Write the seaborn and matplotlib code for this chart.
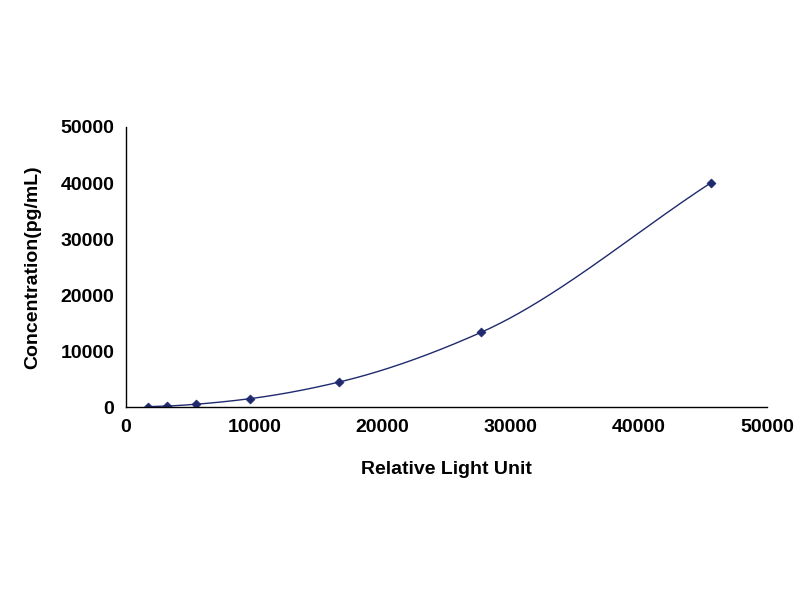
import numpy as np
import pandas as pd
import matplotlib
matplotlib.use('Agg')
import matplotlib.pyplot as plt
import seaborn as sns

# standard curve points
rlu = [1700, 3200, 5450, 9650, 16600, 27700, 45600]
conc = [55, 165, 494, 1481, 4444, 13333, 40000]
x_ticks = [0, 10000, 20000, 30000, 40000, 50000]
y_ticks = [0, 10000, 20000, 30000, 40000, 50000]

df = pd.DataFrame({'RLU': rlu, 'Conc': conc})


# monotone cubic (PCHIP) smoothing for the drawn curve
def pchip(x, y, xs):
    x = np.asarray(x, float); y = np.asarray(y, float)
    h = np.diff(x); d = np.diff(y) / h
    m = np.zeros_like(y)
    for k in range(1, len(x) - 1):
        if d[k - 1] * d[k] > 0:
            w1 = 2 * h[k] + h[k - 1]; w2 = h[k] + 2 * h[k - 1]
            m[k] = (w1 + w2) / (w1 / d[k - 1] + w2 / d[k])
    m[0] = d[0]; m[-1] = d[-1]
    idx = np.clip(np.searchsorted(x, xs) - 1, 0, len(h) - 1)
    t = (xs - x[idx]) / h[idx]
    h00 = 2*t**3 - 3*t**2 + 1; h10 = t**3 - 2*t**2 + t
    h01 = -2*t**3 + 3*t**2; h11 = t**3 - t**2
    return h00*y[idx] + h10*h[idx]*m[idx] + h01*y[idx+1] + h11*h[idx]*m[idx+1]


xs = np.linspace(rlu[0], rlu[-1], 300)
curve = pd.DataFrame({'RLU': xs, 'Conc': pchip(rlu, conc, xs)})

sns.set_style('white')
plt.rcParams['font.family'] = ['Liberation Sans', 'DejaVu Sans']
fig = plt.figure(figsize=(8, 6), dpi=100)
ax = fig.add_axes([126/800, 1-407/600, (767-126)/800, (407-127)/600])

sns.lineplot(data=curve, x='RLU', y='Conc', ax=ax, color='#1f2a6e', linewidth=1)
sns.scatterplot(data=df, x='RLU', y='Conc', ax=ax, marker='D', s=22, color='#1f2a6e', edgecolor='#1f2a6e')

ax.set_xlim(0, 50000)
ax.set_ylim(0, 50000)
ax.set_xticks(x_ticks)
ax.set_yticks(y_ticks)
ax.tick_params(direction='out', length=5, width=1, labelsize=14, colors='black')
for lab in ax.get_xticklabels() + ax.get_yticklabels():
    lab.set_fontweight('bold')
for s in ['top', 'right']:
    ax.spines[s].set_visible(False)
for s in ['left', 'bottom']:
    ax.spines[s].set_color('black')
    ax.spines[s].set_linewidth(1)
ax.set_xlabel('Relative Light Unit', fontsize=14, fontweight='bold', labelpad=18, color='black')
ax.set_ylabel('Concentration(pg/mL)', fontsize=14, fontweight='bold', labelpad=14, color='black')

fig.savefig('out.png', dpi=100)
